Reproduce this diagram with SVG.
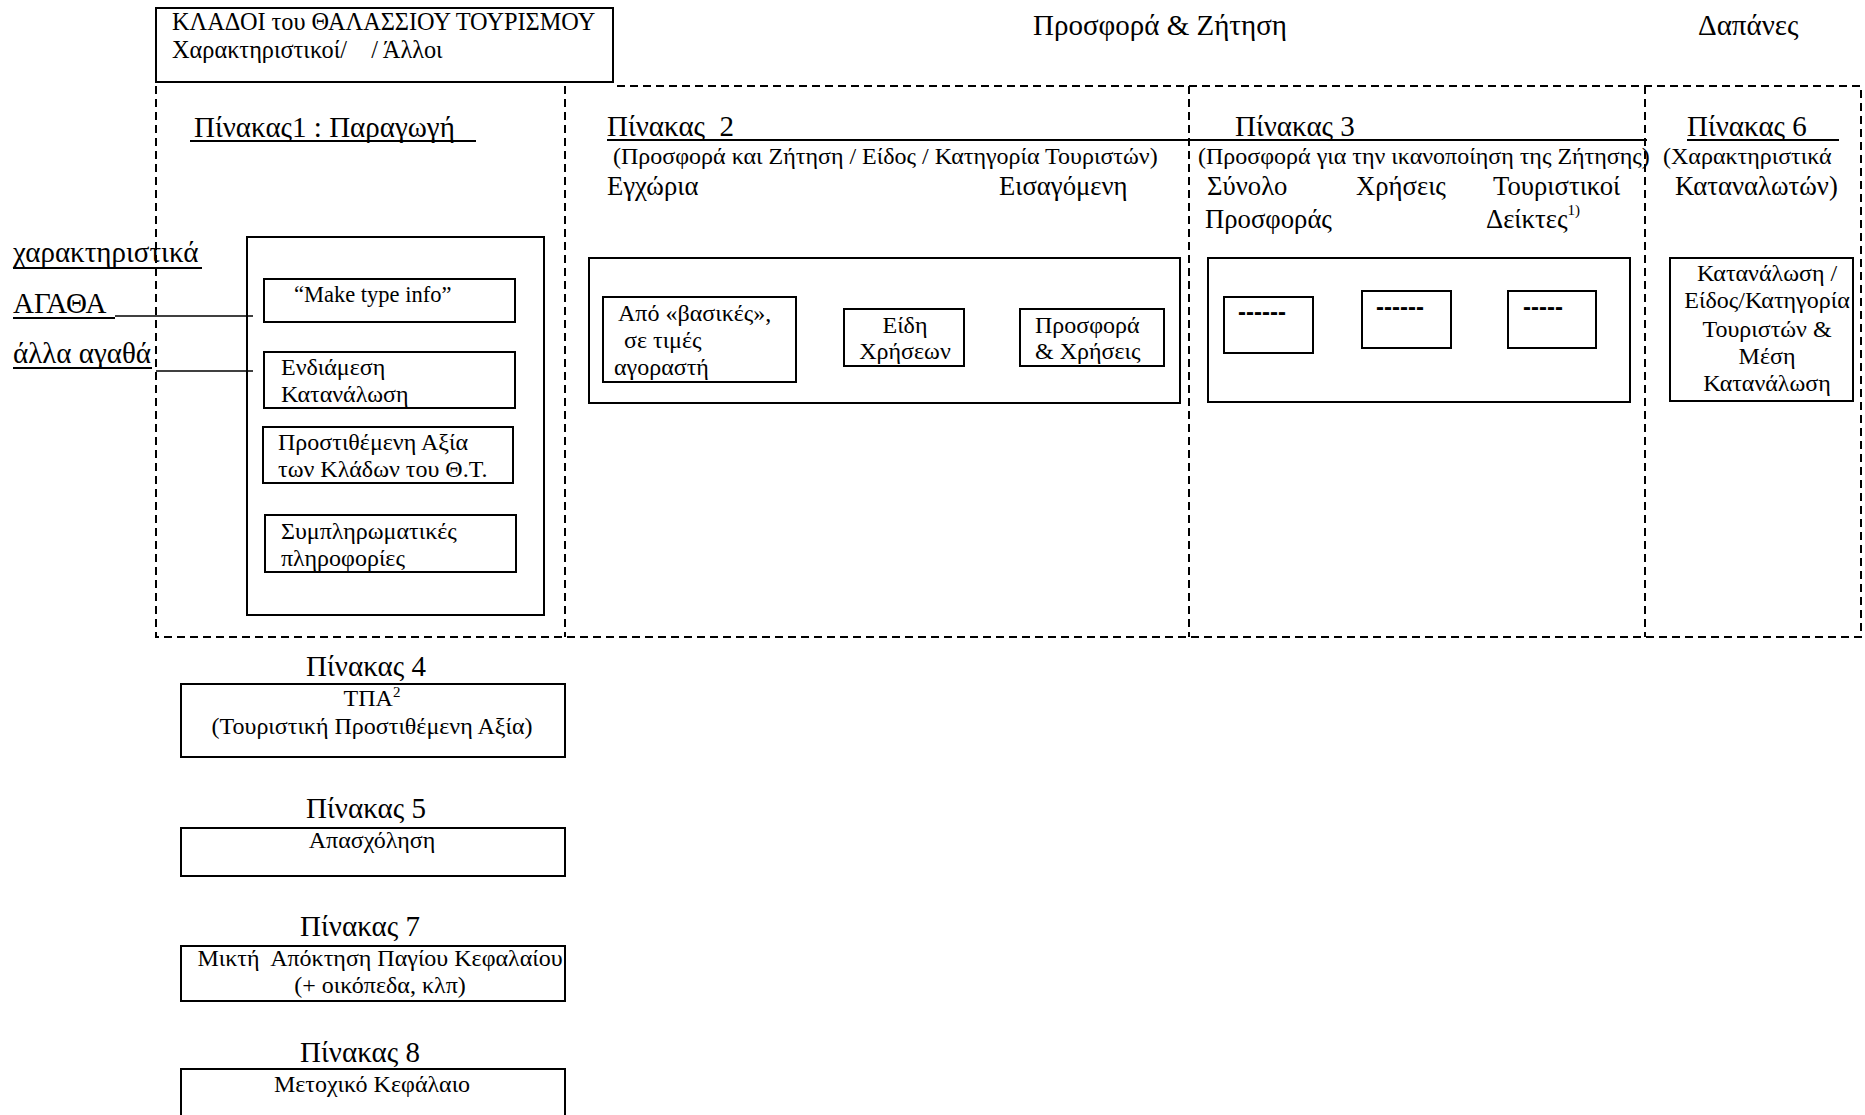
<svg xmlns="http://www.w3.org/2000/svg" width="1865" height="1115" viewBox="0 0 1865 1115">
<style>
text{font-family:"Liberation Serif","Times New Roman",serif;fill:#000}
.h{font-size:29px}
.m{font-size:26.7px}
.s{font-size:24px}
.l{font-size:22.5px}
.t{font-size:24.3px}
.sup{font-size:15px}
.mid{text-anchor:middle}
.dsh{font-family:"Liberation Sans",Arial,sans-serif;font-size:24px;font-weight:bold}
.box{fill:none;stroke:#000;stroke-width:2}
.frame{fill:none;stroke:#000;stroke-width:2;stroke-dasharray:8 5}
.ul{stroke:#000;stroke-width:2}
.con{stroke:#000;stroke-width:1.6;fill:none}
</style>
<rect width="1865" height="1115" fill="#fff"/>

<g id="header">
<rect class="box" x="156" y="8" width="457" height="74"/>
<text class="t" x="172" y="30">ΚΛΑΔΟΙ του ΘΑΛΑΣΣΙΟΥ ΤΟΥΡΙΣΜΟΥ</text>
<text class="t" x="172" y="58" xml:space="preserve">Χαρακτηριστικοί/    / Άλλοι</text>
<text class="h mid" x="1160" y="35">Προσφορά &amp; Ζήτηση</text>
<text class="h" x="1698" y="35">Δαπάνες</text>
</g>

<g id="frame">
<path class="frame" d="M156 86 V637 H1861 V86 H613"/>
<line class="frame" x1="565" y1="86" x2="565" y2="637"/>
<line class="frame" x1="1189" y1="86" x2="1189" y2="637"/>
<line class="frame" x1="1645" y1="86" x2="1645" y2="637"/>
</g>

<g id="left-labels">
<text class="h" x="13" y="262">χαρακτηριστικά</text>
<line class="ul" x1="13" y1="268" x2="202" y2="268"/>
<text class="h" x="13" y="313">ΑΓΑΘΑ</text>
<line class="ul" x1="13" y1="318" x2="115" y2="318"/>
<text class="h" x="13" y="363">άλλα αγαθά</text>
<line class="ul" x1="13" y1="368" x2="152" y2="368"/>
</g>

<g id="connectors">
<line class="con" x1="115" y1="316" x2="253" y2="316"/>
<line class="con" x1="156" y1="371" x2="253" y2="371"/>
</g>

<g id="pinakas1">
<text class="h" x="194" y="137">Πίνακας1 : Παραγωγή</text>
<line class="ul" x1="190" y1="141" x2="476" y2="141"/>
<rect class="box" x="247" y="237" width="297" height="378"/>
</g>
<g id="make-type-info">
<rect class="box" x="264" y="279" width="251" height="43"/>
<text class="l" x="294" y="302">“Make type info”</text>
</g>
<g id="endiamesi">
<rect class="box" x="264" y="352" width="251" height="56"/>
<text class="s" x="281" y="375">Ενδιάμεση</text>
<text class="s" x="281" y="402">Κατανάλωση</text>
</g>
<g id="prostithemeni">
<rect class="box" x="263" y="427" width="250" height="56"/>
<text class="s" x="278" y="450">Προστιθέμενη Αξία</text>
<text class="s" x="278" y="477">των Κλάδων του Θ.Τ.</text>
</g>
<g id="sympliromatikes">
<rect class="box" x="265" y="515" width="251" height="57"/>
<text class="s" x="281" y="539">Συμπληρωματικές</text>
<text class="s" x="281" y="566">πληροφορίες</text>
</g>

<g id="pinakas2">
<text class="h" x="607" y="136" xml:space="preserve">Πίνακας  2</text>
<line class="ul" x1="607" y1="140" x2="1647" y2="140"/>
<text class="s" x="613" y="164">(Προσφορά και Ζήτηση / Είδος / Κατηγορία Τουριστών)</text>
<text class="m" x="607" y="195">Εγχώρια</text>
<text class="m" x="999" y="195">Εισαγόμενη</text>
<rect class="box" x="589" y="258" width="591" height="145"/>
</g>
<g id="vasikes">
<rect class="box" x="603" y="297" width="193" height="85"/>
<text class="s" x="618" y="321">Από «βασικές»,</text>
<text class="s" x="618" y="348" xml:space="preserve"> σε τιμές</text>
<text class="s" x="614" y="375">αγοραστή</text>
</g>
<g id="eidi-xriseon">
<rect class="box" x="844" y="309" width="120" height="57"/>
<text class="s mid" x="905" y="333">Είδη</text>
<text class="s mid" x="905" y="359">Χρήσεων</text>
</g>
<g id="prosfora-xriseis">
<rect class="box" x="1020" y="309" width="144" height="57"/>
<text class="s" x="1035" y="333">Προσφορά</text>
<text class="s" x="1035" y="359">&amp; Χρήσεις</text>
</g>

<g id="pinakas3">
<text class="h" x="1235" y="136">Πίνακας 3</text>
<text class="s" x="1198" y="164">(Προσφορά για την ικανοποίηση της Ζήτησης)</text>
<text class="m" x="1207" y="195">Σύνολο</text>
<text class="m" x="1356" y="195">Χρήσεις</text>
<text class="m" x="1493" y="195">Τουριστικοί</text>
<text class="m" x="1205" y="228">Προσφοράς</text>
<text class="m" x="1486" y="228">Δείκτες<tspan class="sup" dy="-13">1)</tspan></text>
<rect class="box" x="1208" y="258" width="422" height="144"/>
</g>
<g id="p3-box1">
<rect class="box" x="1224" y="297" width="89" height="56"/>
<text class="dsh" x="1238" y="320">------</text>
</g>
<g id="p3-box2">
<rect class="box" x="1362" y="291" width="89" height="57"/>
<text class="dsh" x="1376" y="315">------</text>
</g>
<g id="p3-box3">
<rect class="box" x="1508" y="291" width="88" height="57"/>
<text class="dsh" x="1523" y="315">-----</text>
</g>

<g id="pinakas6">
<text class="h" x="1687" y="136">Πίνακας 6</text>
<line class="ul" x1="1687" y1="140" x2="1839" y2="140"/>
<text class="s" x="1663" y="164">(Χαρακτηριστικά</text>
<text class="m" x="1675" y="195">Καταναλωτών)</text>
</g>
<g id="katanalosi">
<rect class="box" x="1670" y="258" width="183" height="143"/>
<text class="s mid" x="1767" y="281">Κατανάλωση /</text>
<text class="s mid" x="1767" y="308">Είδος/Κατηγορία</text>
<text class="s mid" x="1767" y="337">Τουριστών &amp;</text>
<text class="s mid" x="1767" y="364">Μέση</text>
<text class="s mid" x="1767" y="391">Κατανάλωση</text>
</g>

<g id="pinakas4">
<text class="h mid" x="366" y="676">Πίνακας 4</text>
<rect class="box" x="181" y="684" width="384" height="73"/>
<text class="s mid" x="372" y="706">ΤΠΑ<tspan class="sup" dy="-9">2</tspan></text>
<text class="s mid" x="372" y="734">(Τουριστική Προστιθέμενη Αξία)</text>
</g>
<g id="pinakas5">
<text class="h mid" x="366" y="818">Πίνακας 5</text>
<rect class="box" x="181" y="828" width="384" height="48"/>
<text class="s mid" x="372" y="848">Απασχόληση</text>
</g>
<g id="pinakas7">
<text class="h mid" x="360" y="936">Πίνακας 7</text>
<rect class="box" x="181" y="946" width="384" height="55"/>
<text class="s mid" x="380" y="966" xml:space="preserve">Μικτή  Απόκτηση Παγίου Κεφαλαίου</text>
<text class="s mid" x="380" y="993">(+ οικόπεδα, κλπ)</text>
</g>
<g id="pinakas8">
<text class="h mid" x="360" y="1062">Πίνακας 8</text>
<rect class="box" x="181" y="1069" width="384" height="60"/>
<text class="s mid" x="372" y="1092">Μετοχικό Κεφάλαιο</text>
</g>
</svg>
